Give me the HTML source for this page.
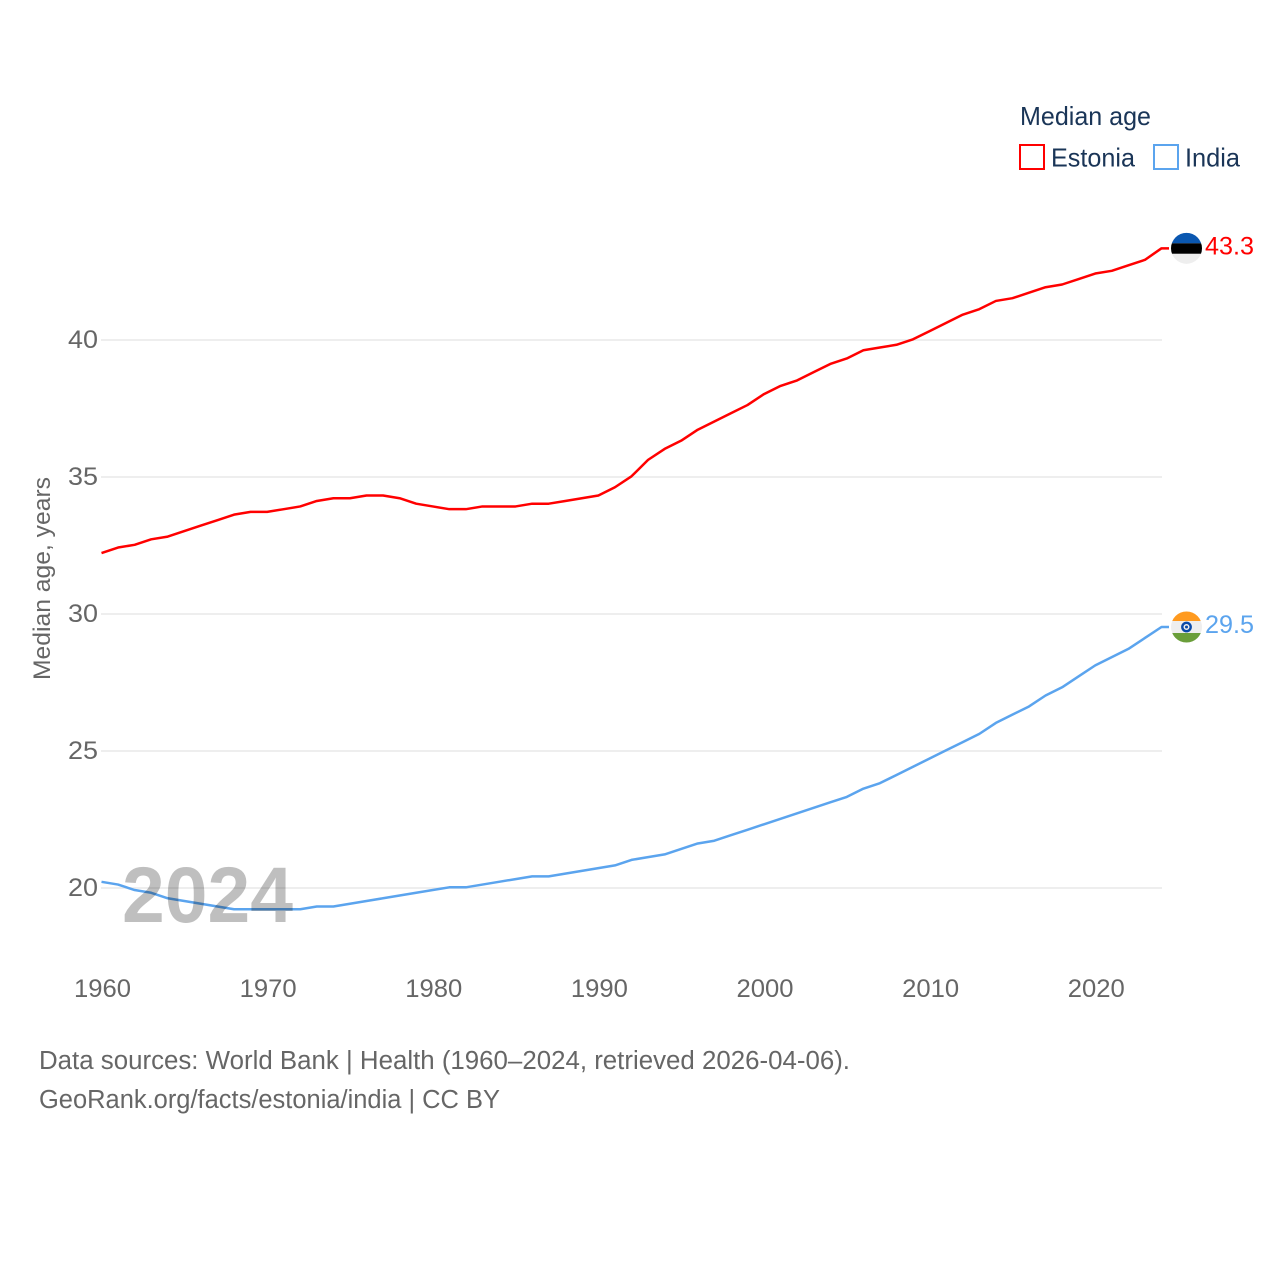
<!DOCTYPE html>
<html lang="en">
<head>
<meta charset="utf-8">
<title>Median age: Estonia and India</title>
<style>
html,body{margin:0;padding:0;background:#fff;}
svg{display:block;font-family:"Liberation Sans",sans-serif;}
</style>
</head>
<body>
<svg id="chart" width="1280" height="1280" viewBox="0 0 1280 1280" xmlns="http://www.w3.org/2000/svg">
  <defs>
    <clipPath id="flag-clip-estonia"><circle cx="0" cy="0" r="15.5"/></clipPath>
    <clipPath id="flag-clip-india"><circle cx="0" cy="0" r="15.5"/></clipPath>
  </defs>
  <g id="grid"></g>
  <g id="y-ticks"></g>
  <g id="x-ticks"></g>
  <text transform="translate(50,680) rotate(-90)" font-size="24" fill="#666" textLength="203" lengthAdjust="spacingAndGlyphs">Median age, years</text>
  <g id="series"></g>
  <g id="flag-estonia" clip-path="url(#flag-clip-estonia)">
    <rect x="-16" y="-16" width="32" height="11" fill="#0a57b0"/>
    <rect x="-16" y="-5" width="32" height="10.5" fill="#000"/>
    <rect x="-16" y="5.5" width="32" height="10.5" fill="#eeeeee"/>
  </g>
  <g id="flag-india" clip-path="url(#flag-clip-india)">
    <rect x="-16" y="-16" width="32" height="10" fill="#ff9a1f"/>
    <rect x="-16" y="-6" width="32" height="12" fill="#eeeeee"/>
    <rect x="-16" y="6" width="32" height="10" fill="#6a9e3a"/>
    <circle cx="0" cy="0" r="4.2" fill="none" stroke="#0a4aa8" stroke-width="2.4"/>
    <circle cx="0" cy="0" r="1.5" fill="#0a4aa8"/>
  </g>
  <text id="label-estonia" x="1205" font-size="25" fill="#ff0000" textLength="49" lengthAdjust="spacingAndGlyphs"></text>
  <text id="label-india" x="1205" font-size="25" fill="#5ba4ee" textLength="49" lengthAdjust="spacingAndGlyphs"></text>
  <text x="122" y="922" font-size="79" font-weight="bold" fill="#000" fill-opacity="0.25" textLength="171" lengthAdjust="spacingAndGlyphs">2024</text>
  <g>
    <text x="1020" y="125" font-size="26" fill="#1a3557" textLength="131" lengthAdjust="spacingAndGlyphs">Median age</text>
    <g>
      <rect x="1020" y="145" width="24" height="24" fill="#fff" stroke="#ff0000" stroke-width="2"/>
      <text x="1051" y="166.5" font-size="26" fill="#1a3557" textLength="84" lengthAdjust="spacingAndGlyphs">Estonia</text>
    </g>
    <g>
      <rect x="1154" y="145" width="24" height="24" fill="#fff" stroke="#5ba4ee" stroke-width="2"/>
      <text x="1185" y="166.5" font-size="26" fill="#1a3557" textLength="55" lengthAdjust="spacingAndGlyphs">India</text>
    </g>
  </g>
  <text x="39" y="1069" font-size="25.5" fill="#666" textLength="811" lengthAdjust="spacingAndGlyphs">Data sources: World Bank | Health (1960–2024, retrieved 2026-04-06).</text>
  <a><text x="39" y="1108" font-size="25.5" fill="#666" textLength="461" lengthAdjust="spacingAndGlyphs">GeoRank.org/facts/estonia/india | CC BY</text></a>
</svg>
<script>
const years = [1960,1961,1962,1963,1964,1965,1966,1967,1968,1969,1970,1971,1972,1973,1974,1975,1976,1977,1978,1979,1980,1981,1982,1983,1984,1985,1986,1987,1988,1989,1990,1991,1992,1993,1994,1995,1996,1997,1998,1999,2000,2001,2002,2003,2004,2005,2006,2007,2008,2009,2010,2011,2012,2013,2014,2015,2016,2017,2018,2019,2020,2021,2022,2023,2024];
const estoniaValues = [32.2,32.4,32.5,32.7,32.8,33.0,33.2,33.4,33.6,33.7,33.7,33.8,33.9,34.1,34.2,34.2,34.3,34.3,34.2,34.0,33.9,33.8,33.8,33.9,33.9,33.9,34.0,34.0,34.1,34.2,34.3,34.6,35.0,35.6,36.0,36.3,36.7,37.0,37.3,37.6,38.0,38.3,38.5,38.8,39.1,39.3,39.6,39.7,39.8,40.0,40.3,40.6,40.9,41.1,41.4,41.5,41.7,41.9,42.0,42.2,42.4,42.5,42.7,42.9,43.32];
const indiaValues = [20.2,20.1,19.9,19.8,19.6,19.5,19.4,19.3,19.2,19.2,19.2,19.2,19.2,19.3,19.3,19.4,19.5,19.6,19.7,19.8,19.9,20.0,20.0,20.1,20.2,20.3,20.4,20.4,20.5,20.6,20.7,20.8,21.0,21.1,21.2,21.4,21.6,21.7,21.9,22.1,22.3,22.5,22.7,22.9,23.1,23.3,23.6,23.8,24.1,24.4,24.7,25.0,25.3,25.6,26.0,26.3,26.6,27.0,27.3,27.7,28.1,28.4,28.7,29.1,29.5];
const yTickValues = [20,25,30,35,40];
const xTickValues = [1960,1970,1980,1990,2000,2010,2020];
const estoniaEndLabel = "43.3";
const indiaEndLabel = "29.5";

const NS = "http://www.w3.org/2000/svg";
const plotLeft = 102, plotRight = 1162, y40 = 340, y20 = 888;
const lineOffsetX = -0.5, lineOffsetY = -0.7;
function xScale(year){ return plotLeft + (year - 1960) * (plotRight - plotLeft) / (2024 - 1960); }
function yScale(v){ return y20 + (v - 20) * (y40 - y20) / (40 - 20); }
function make(tag, attrs, parent){
  const el = document.createElementNS(NS, tag);
  for (const k in attrs) el.setAttribute(k, attrs[k]);
  parent.appendChild(el);
  return el;
}
const gridG = document.getElementById("grid");
const yG = document.getElementById("y-ticks");
const xG = document.getElementById("x-ticks");
const seriesG = document.getElementById("series");

yTickValues.forEach(function(v){
  const line = make("line", {x1: plotLeft - 1, x2: plotRight, y1: yScale(v), y2: yScale(v), stroke: "#eeeeee", "stroke-width": 2}, gridG);
  
  
  const t = make("text", {x: 98, y: yScale(v) + 8, "text-anchor": "end", "font-size": 25, fill: "#666", textLength: 30, lengthAdjust: "spacingAndGlyphs"}, yG);
  
  
  t.textContent = String(v);
});
xTickValues.forEach(function(yr){
  const t = make("text", {x: xScale(yr) + 0.5, y: 997, "text-anchor": "middle", "font-size": 25, fill: "#666", textLength: 57, lengthAdjust: "spacingAndGlyphs"}, xG);
  
  
  t.textContent = String(yr);
});
function drawSeries(values, color, name){
  let d = "";
  values.forEach(function(v, i){
    d += (i ? "L" : "M") + (xScale(years[i]) + lineOffsetX).toFixed(2) + " " + (yScale(v) + lineOffsetY).toFixed(2);
  });
  const last = values[values.length - 1];
  const endY = yScale(last) + lineOffsetY;
  d += "L" + (xScale(years[years.length - 1]) + 7) + " " + endY.toFixed(2);
  const p = make("path", {d: d, fill: "none", stroke: color, "stroke-width": 2.5, "stroke-linejoin": "round"}, seriesG);
  
  
  return endY;
}
const estEnd = drawSeries(estoniaValues, "#ff0000", "estonia-line");
const indEnd = drawSeries(indiaValues, "#5ba4ee", "india-line");
const markerX = xScale(2024) + 24.5;
document.getElementById("flag-estonia").setAttribute("transform", "translate(" + markerX + "," + estEnd + ")");
document.getElementById("flag-india").setAttribute("transform", "translate(" + markerX + "," + indEnd + ")");
const le = document.getElementById("label-estonia");
le.setAttribute("y", estEnd + 6);
le.textContent = estoniaEndLabel;
const li = document.getElementById("label-india");
li.setAttribute("y", indEnd + 6);
li.textContent = indiaEndLabel;
</script>
</body>
</html>
